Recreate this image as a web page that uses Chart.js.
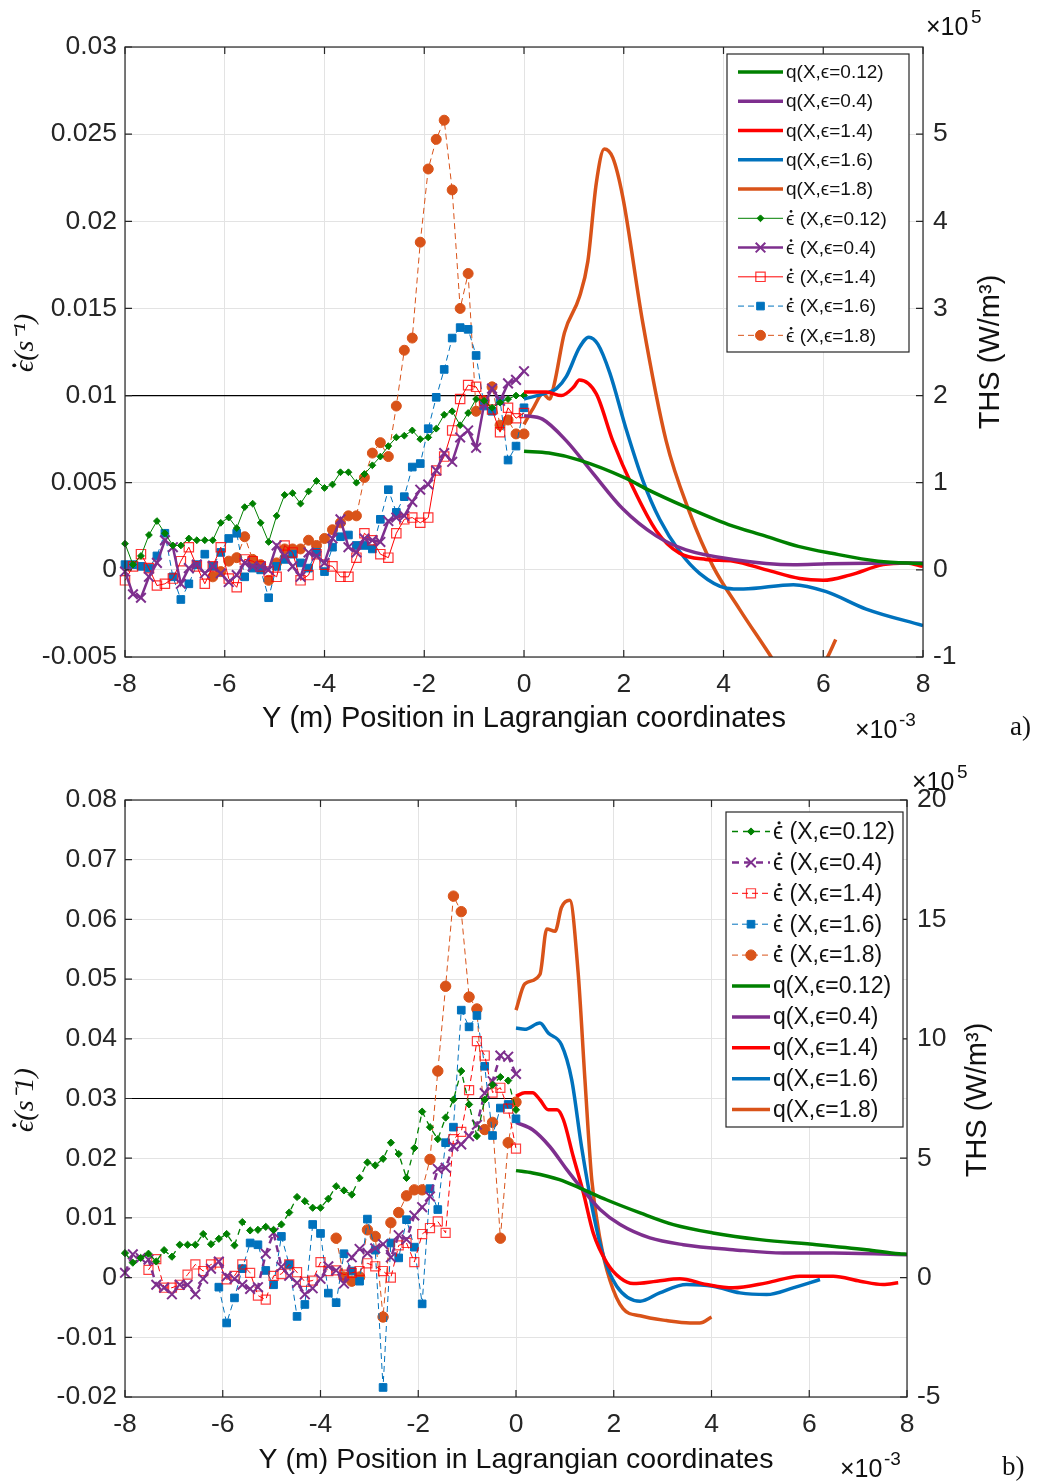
<!DOCTYPE html>
<html>
<head>
<meta charset="utf-8">
<script src="https://cdn.jsdelivr.net/npm/chart.js@4.4.1/dist/chart.umd.min.js"></script>
<style>
  body { margin: 0; background: #fff; width: 1041px; height: 1484px; position: relative; overflow: hidden; }
  .panel { position: absolute; left: 0; width: 1041px; height: 742px; }
</style>
</head>
<body>
<div class="panel" style="top:0"><canvas id="chartA" width="1041" height="742"></canvas></div>
<div class="panel" style="top:742px"><canvas id="chartB" width="1041" height="742"></canvas></div>
<script>
// position along Y (x1e-3 m), shared by all strain-rate series
const posX = [-8,-7.84,-7.68,-7.52,-7.36,-7.2,-7.04,-6.88,-6.72,-6.56,-6.4,-6.24,-6.08,-5.92,-5.76,-5.6,-5.44,-5.28,-5.12,-4.96,
  -4.8,-4.64,-4.48,-4.32,-4.16,-4,-3.84,-3.68,-3.52,-3.36,-3.2,-3.04,-2.88,-2.72,-2.56,-2.4,-2.24,-2.08,-1.92,-1.76,
  -1.6,-1.44,-1.28,-1.12,-0.96,-0.8,-0.64,-0.48,-0.32,-0.16,0];

// panel a) strain rate (1/s)
const rateA012 = [0.0015,0.0003,0.0008,0.0020,0.0028,0.0021,0.0014,0.0014,0.0018,0.0017,0.0017,0.0017,0.0027,0.0030,0.0024,0.0036,0.0038,0.0027,0.0016,0.0031,
  0.0043,0.0044,0.0038,0.0045,0.0051,0.0047,0.0049,0.0056,0.0056,0.0050,0.0055,0.0060,0.0065,0.0071,0.0076,0.0077,0.0080,0.0075,0.0076,0.0081,
  0.0089,0.0091,0.0083,0.0090,0.0098,0.0097,0.0093,0.0096,0.0098,0.0100,0.0100];
const rateA04 = [-0.0001,-0.0014,-0.0016,-0.0004,0.0004,0.0017,0.0013,-0.0008,0.0001,0.0003,-0.0002,0.0002,-0.0002,-0.0007,-0.0003,0.0004,0.0002,0.0002,0,0.0014,
  0.0008,0.0002,-0.0004,0.0010,0.0008,0.0004,0.0018,0.0029,0.0013,0.0010,0.0018,0.0017,0.0016,0.0028,0.0030,0.0031,0.0039,0.0046,0.0049,0.0057,
  0.0067,0.0062,0.0076,0.0080,0.0070,0.0095,0.0104,0.0097,0.0107,0.0109,0.0114];
const rateA14 = [-0.0006,0.0002,0.0009,0.0001,-0.0009,-0.0008,-0.0005,0.0005,0.0013,0.0002,-0.0008,0.0002,0.0013,-0.0005,-0.0010,0.0006,0.0005,0.0002,-0.0001,-0.0004,
  0.0014,0.0010,-0.0006,-0.0003,0.0009,0.0003,0.0002,-0.0004,-0.0004,0.0007,0.0021,0.0017,0.0009,0.0007,0.0021,0.0029,0.0030,0.0027,0.0030,0.0057,
  0.0065,0.0080,0.0098,0.0106,0.0105,0.0097,0.0092,0.0079,0.0093,0.0087,0.0090];
const rateA16 = [0.0003,0.0003,0.0002,0.0001,0.0008,0.0021,-0.0004,-0.0017,-0.0008,0.0003,0.0009,0.0002,0.0010,0.0018,0.0021,-0.0004,0.0001,0,-0.0016,0.0002,
  0.0006,0.0009,0.0004,0.0001,0.0010,-0.0001,0.0013,0.0019,0.0020,0.0014,0.0014,0.0012,0.0029,0.0046,0.0033,0.0042,0.0059,0.0061,0.0081,0.0099,
  0.0115,0.0133,0.0139,0.0138,0.0123,0.0094,0.0091,0.0097,0.0063,0.0071,0.0093];
const rateA18 = [null,null,null,null,null,null,null,null,null,null,null,-0.0004,-0.0001,0.0005,0.0007,0.0019,0.0006,0.0003,-0.0006,0.0004,
  0.0012,0.0012,0.0012,0.0017,0.0014,0.0018,0.0023,0.0027,0.0031,0.0031,0.0053,0.0067,0.0073,0.0065,0.0094,0.0126,0.0133,0.0188,0.0230,0.0247,
  0.0258,0.0218,0.0150,0.0170,0.0091,0.0097,0.0105,0.0083,0.0086,0.0078,0.0078];

// panel a) THS (x1e5 W/m3)
const qA012x = [0,0.5,1.11,2.05,2.45,3.25,4.1,4.83,5.5,6.17,7.1,8];
const qA012y = [1.36,1.34,1.26,1.05,0.93,0.72,0.52,0.39,0.27,0.19,0.10,0.07];
const qA04x = [0,0.37,0.85,1.38,1.98,2.65,3.25,4.19,5.4,6.1,8];
const qA04y = [1.77,1.73,1.48,1.11,0.70,0.39,0.23,0.12,0.06,0.07,0.08];
const qA14x = [0,0.45,0.75,1.0,1.11,1.45,1.78,2.18,2.65,3.12,3.65,4.2,4.86,5.53,6.0,6.53,7.2,7.67,8];
const qA14y = [2.04,2.04,2.0,2.1,2.18,2.02,1.48,0.95,0.45,0.19,0.12,0.10,0.0,-0.10,-0.12,-0.06,0.06,0.08,0.04];
const qA16x = [0,0.45,0.65,0.85,1.11,1.3,1.48,1.72,2.05,2.38,2.72,3.12,3.52,4.06,4.4,5.4,6.06,6.86,8];
const qA16y = [1.96,2.03,2.08,2.22,2.55,2.67,2.59,2.26,1.61,1.03,0.58,0.21,-0.04,-0.21,-0.22,-0.17,-0.25,-0.45,-0.64];
const qA18x = [0,0.18,0.38,0.51,0.61,0.81,1.11,1.28,1.45,1.61,1.78,1.98,2.38,2.85,3.32,3.79,4.32,4.99,5.5,6.06,6.25];
const qA18y = [1.67,1.85,2.02,1.96,2.14,2.72,3.13,3.54,4.44,4.83,4.73,4.28,2.84,1.48,0.66,0.04,-0.45,-1.03,-1.5,-1.03,-0.8];

// panel b) strain rate (1/s)
const rateB012 = [0.0041,0.0025,0.0033,0.0040,0.0027,0.0046,0.0035,0.0055,0.0055,0.0055,0.0073,0.0056,0.0065,0.0073,0.0054,0.0093,0.0079,0.0080,0.0085,0.0080,
  0.0089,0.0109,0.0135,0.0128,0.0117,0.0117,0.0132,0.0153,0.0146,0.0139,0.0167,0.0193,0.0188,0.0199,0.0226,0.0207,0.0167,0.0217,0.0278,0.0252,
  0.0232,0.0268,0.0298,0.0346,0.0290,0.0237,0.0298,0.0323,0.0336,0.0330,0.0281];
const rateB04 = [0.0008,0.0039,0.0033,0.0030,-0.0012,-0.0017,-0.0028,-0.0012,-0.0012,-0.0028,-0.0002,0.0015,0.0027,0.0002,-0.0002,-0.0012,-0.0019,-0.0016,0.0040,0.0075,
  0.0018,0.0003,-0.0009,-0.0028,-0.0018,-0.0002,0.0019,0.0012,-0.0010,0.0034,0.0048,0.0041,0.0049,0.0056,0.0034,0.0071,0.0064,0.0104,0.0118,0.0136,
  0.0182,0.0184,0.0220,0.0223,0.0237,0.0256,0.0309,0.0329,0.0372,0.0370,0.0341];
const rateB14 = [null,null,null,0.0013,0.0031,-0.0017,-0.0017,-0.0012,0.0005,0.0022,0.0011,0.0022,0.0025,-0.0003,0.0003,0.0022,0.0008,-0.0030,-0.0037,0.0003,
  0.0006,0.0022,0.0009,-0.0007,-0.0005,0.0026,0.0011,0.0012,0.0005,0.0008,0.0011,0.0024,0.0019,0.0011,0,0.0054,0.0058,0.0026,0.0073,0.0083,
  0.0094,0.0075,0.0232,0.0244,0.0314,0.0396,0.0372,0.0310,0.0318,0.0283,0.0216];
const rateB16 = [null,null,null,null,null,null,null,null,null,null,null,null,-0.0016,-0.0076,-0.0034,0.0015,0.0058,0.0055,0.0012,-0.0012,
  0.0069,0.0022,-0.0065,-0.0045,0.0089,0.0074,-0.0026,-0.0042,0.0040,0.0011,-0.0006,0.0098,0.0046,-0.0184,0.0058,0.0033,0.0097,0.0051,-0.0044,0.0149,
  0.0114,0.0226,0.0252,0.0448,0.0420,0.0439,0.0354,0.0238,0.0284,0.0290,0.0266];
const rateB18 = [null,null,null,null,null,null,null,null,null,null,null,null,null,null,null,null,null,null,null,null,
  null,null,null,null,null,null,null,0.0066,0.0001,-0.0006,0.0001,0.0080,0.0069,-0.0066,0.0092,0.0109,0.0137,0.0147,0.0147,0.0198,
  0.0346,0.0488,0.0639,0.0613,0.0470,0.0450,0.0248,0.0260,0.0066,0.0226,0.0294];

// panel b) THS (x1e5 W/m3)
const qB012x = [0,0.34,0.89,1.31,1.85,2.54,3.22,4.03,4.99,6.15,7.17,7.84,8];
const qB012y = [4.48,4.38,4.1,3.75,3.26,2.71,2.22,1.87,1.59,1.38,1.17,1.0,0.98];
const qB04x = [0,0.34,0.69,1.04,1.31,1.72,2.13,2.74,3.42,4.44,5.47,6.49,8];
const qB04y = [6.5,6.19,5.49,4.52,3.82,2.85,2.22,1.66,1.38,1.17,1.03,1.03,0.96];
const qB14x = [0,0.18,0.34,0.49,0.66,0.84,0.97,1.17,1.38,1.58,1.86,2.13,2.4,2.88,3.35,3.9,4.44,5.13,5.81,6.49,7.04,7.51,7.82];
const qB14y = [7.59,7.74,7.74,7.45,7.03,7.03,6.61,5.08,3.54,1.87,0.62,-0.01,-0.25,-0.15,-0.05,-0.29,-0.43,-0.22,0.06,0.06,-0.15,-0.29,-0.22];
const qB16x = [0,0.18,0.49,0.66,0.93,1.14,1.34,1.58,1.79,2.06,2.54,2.94,3.49,4.03,4.58,5.13,5.67,6.22];
const qB16y = [10.45,10.4,10.66,10.24,9.75,8.28,5.49,2.71,0.89,-0.36,-0.99,-0.64,-0.29,-0.36,-0.64,-0.71,-0.43,-0.08];
const qB18x = [0,0.18,0.49,0.63,0.8,0.93,1.1,1.27,1.41,1.55,1.72,1.92,2.19,2.54,3.08,3.56,3.76,4.0];
const qB18y = [11.2,12.3,12.7,14.6,14.5,15.5,15.8,12.8,8.3,4.1,1.6,-0.1,-1.3,-1.6,-1.8,-1.9,-1.9,-1.65];

// horizontal reference lines
const refX = [-8, 0];
const refA = [0.01, 0.01];
const refB = [0.03, 0.03];

// axis ticks
const xTickVals = [-8,-6,-4,-2,0,2,4,6,8];
const xTickLabels = ['-8','-6','-4','-2','0','2','4','6','8'];
const leftValsA = [-0.005,0,0.005,0.01,0.015,0.02,0.025,0.03];
const leftLabelsA = ['-0.005','0','0.005','0.01','0.015','0.02','0.025','0.03'];
const rightValsA = [-1,0,1,2,3,4,5];
const rightLabelsA = ['-1','0','1','2','3','4','5'];
const leftValsB = [-0.02,-0.01,0,0.01,0.02,0.03,0.04,0.05,0.06,0.07,0.08];
const leftLabelsB = ['-0.02','-0.01','0','0.01','0.02','0.03','0.04','0.05','0.06','0.07','0.08'];
const rightValsB = [-5,0,5,10,15,20];
const rightLabelsB = ['-5','0','5','10','15','20'];

const GREEN = '#008000', PURPLE = '#7E2F8E', RED = '#FF0000', BLUE = '#0072BD', ORANGE = '#D95319';
const TXT = '#262626', GRID = '#e3e3e3';
const SANS = '"Liberation Sans", Arial, sans-serif';
const SERIF = '"Liberation Serif", "Times New Roman", serif';
const EPS = '\u03F5';
const EPSDOT = '\u03F5\u0307';

function pts(xs, ys) {
  return xs.map((x, i) => ({ x: x, y: ys[i] }));
}

function qSet(label, xs, ys, color) {
  return {
    label: label, data: pts(xs, ys), yAxisID: 'yR',
    borderColor: color, backgroundColor: color, borderWidth: 3.5,
    pointRadius: 0, cubicInterpolationMode: 'monotone', fill: false, clip: 0
  };
}

function rateSet(label, ys, color, o) {
  return Object.assign({
    label: label, data: pts(posX, ys), yAxisID: 'y',
    borderColor: color, backgroundColor: color, borderWidth: 1,
    pointBackgroundColor: color, pointBorderColor: color, pointBorderWidth: 1,
    tension: 0, fill: false, clip: false
  }, o);
}

function refSet(ys) {
  return { label: 'ref', data: pts(refX, ys), yAxisID: 'y', borderColor: '#000', borderWidth: 1.2, pointRadius: 0, fill: false };
}

function tickAxis(vals, labels, extra) {
  return Object.assign({
    type: 'linear',
    min: vals[0], max: vals[vals.length - 1],
    afterBuildTicks: s => { s.ticks = vals.map(v => ({ value: v })); },
    border: { display: false },
    grid: { color: GRID, lineWidth: 1, drawTicks: false },
    ticks: { autoSkip: false, maxRotation: 0, color: TXT, font: { family: SANS, size: 26.5 }, callback: (v, i) => labels[i] }
  }, extra);
}

function marker(ctx, style, r, x, y, fill, stroke, bw) {
  ctx.save();
  ctx.setLineDash([]);
  ctx.beginPath();
  if (style === 'circle') {
    ctx.arc(x, y, r, 0, Math.PI * 2);
  } else if (style === 'rect') {
    const s = r * Math.SQRT1_2;
    ctx.rect(x - s, y - s, 2 * s, 2 * s);
  } else if (style === 'rectRot') {
    ctx.moveTo(x - r, y); ctx.lineTo(x, y - r); ctx.lineTo(x + r, y); ctx.lineTo(x, y + r); ctx.closePath();
  } else if (style === 'crossRot') {
    const s = r * Math.SQRT1_2;
    ctx.moveTo(x - s, y - s); ctx.lineTo(x + s, y + s);
    ctx.moveTo(x + s, y - s); ctx.lineTo(x - s, y + s);
  }
  if (style !== 'crossRot' && fill) { ctx.fillStyle = fill; ctx.fill(); }
  ctx.strokeStyle = stroke; ctx.lineWidth = bw; ctx.stroke();
  ctx.restore();
}

// draws text; a leading dotted epsilon gets its dot painted by hand
function richText(ctx, text, x, y, align) {
  if (text.indexOf(EPSDOT) !== 0) {
    ctx.textAlign = align;
    ctx.fillText(text, x, y);
    return;
  }
  const rest = text.slice(2);
  const size = parseFloat(/([\d.]+)px/.exec(ctx.font)[1]);
  const we = ctx.measureText(EPS).width;
  const total = we + ctx.measureText(rest).width;
  const sx = align === 'center' ? x - total / 2 : x;
  ctx.textAlign = 'left';
  ctx.fillText(EPS, sx, y);
  ctx.beginPath();
  ctx.arc(sx + we * 0.6, y - size * 0.42, size * 0.07, 0, Math.PI * 2);
  ctx.fill();
  ctx.fillText(rest, sx + we, y);
}

const framePlugin = {
  id: 'frame',
  afterDraw(chart, args, o) {
    const ctx = chart.ctx, a = chart.chartArea, sc = chart.scales;
    ctx.save();
    ctx.strokeStyle = TXT;
    ctx.lineWidth = 1.2;
    ctx.strokeRect(a.left, a.top, a.right - a.left, a.bottom - a.top);
    ctx.beginPath();
    sc.x.ticks.forEach(t => {
      const px = sc.x.getPixelForValue(t.value);
      ctx.moveTo(px, a.bottom); ctx.lineTo(px, a.bottom - 7);
      ctx.moveTo(px, a.top); ctx.lineTo(px, a.top + 7);
    });
    sc.y.ticks.forEach(t => {
      const py = sc.y.getPixelForValue(t.value);
      ctx.moveTo(a.left, py); ctx.lineTo(a.left + 7, py);
    });
    sc.yR.ticks.forEach(t => {
      const py = sc.yR.getPixelForValue(t.value);
      ctx.moveTo(a.right, py); ctx.lineTo(a.right - 7, py);
    });
    ctx.stroke();

    // texts
    o.texts.forEach(t => {
      ctx.save();
      ctx.fillStyle = '#111';
      ctx.font = t.font;
      ctx.textBaseline = t.base || 'middle';
      ctx.translate(t.x, t.y);
      if (t.rot) ctx.rotate(t.rot * Math.PI / 180);
      richText(ctx, t.t, 0, 0, t.align || 'center');
      ctx.restore();
    });

    // legend
    const L = o.legend;
    ctx.fillStyle = '#fff';
    ctx.fillRect(L.box[0], L.box[1], L.box[2] - L.box[0], L.box[3] - L.box[1]);
    ctx.strokeStyle = TXT;
    ctx.lineWidth = 1.2;
    ctx.strokeRect(L.box[0], L.box[1], L.box[2] - L.box[0], L.box[3] - L.box[1]);
    L.order.forEach((di, k) => {
      const ds = chart.data.datasets[di];
      const y = L.y0 + k * L.step;
      ctx.save();
      ctx.strokeStyle = ds.borderColor;
      ctx.lineWidth = ds.borderWidth;
      ctx.setLineDash(ds.borderDash || []);
      ctx.beginPath();
      ctx.moveTo(L.x0, y); ctx.lineTo(L.x1, y);
      ctx.stroke();
      ctx.restore();
      if (ds.pointRadius > 0) {
        marker(ctx, ds.pointStyle, ds.pointRadius, (L.x0 + L.x1) / 2, y, ds.pointBackgroundColor, ds.pointBorderColor, ds.pointBorderWidth);
      }
      ctx.fillStyle = '#111';
      ctx.font = L.font;
      ctx.textBaseline = 'middle';
      richText(ctx, ds.label, L.tx, y + 1, 'left');
    });
    ctx.restore();
  }
};

function makeChart(id, datasets, s) {
  return new Chart(document.getElementById(id), {
    type: 'line',
    data: { datasets: datasets },
    plugins: [framePlugin],
    options: {
      responsive: false,
      animation: false,
      devicePixelRatio: 1,
      layout: { padding: { top: s.top, left: 0, right: 0, bottom: 0 } },
      plugins: {
        legend: { display: false },
        tooltip: { enabled: false },
        frame: { texts: s.texts, legend: s.legend }
      },
      scales: {
        x: tickAxis(xTickVals, xTickLabels, {
          min: -8, max: 8,
          afterFit: sc => { sc.height = s.xH; },
          ticks: { autoSkip: false, maxRotation: 0, padding: s.xPad, color: TXT, font: { family: SANS, size: 26.5 }, callback: (v, i) => xTickLabels[i] }
        }),
        y: tickAxis(s.leftVals, s.leftLabels, {
          position: 'left',
          afterFit: sc => { sc.width = 125; },
          ticks: { autoSkip: false, padding: 8, color: TXT, font: { family: SANS, size: 26.5 }, callback: (v, i) => s.leftLabels[i] }
        }),
        yR: tickAxis(s.rightVals, s.rightLabels, {
          position: 'right',
          min: s.rightMin, max: s.rightMax,
          afterFit: sc => { sc.width = s.rightW; },
          grid: { display: false, drawTicks: false },
          ticks: { autoSkip: false, padding: 10, color: TXT, font: { family: SANS, size: 26.5 }, callback: (v, i) => s.rightLabels[i] }
        })
      }
    }
  });
}

// ---------- panel a ----------
const dsA = [
  qSet('q(X,' + EPS + '=0.12)', qA012x, qA012y, GREEN),
  qSet('q(X,' + EPS + '=0.4)', qA04x, qA04y, PURPLE),
  qSet('q(X,' + EPS + '=1.4)', qA14x, qA14y, RED),
  qSet('q(X,' + EPS + '=1.6)', qA16x, qA16y, BLUE),
  qSet('q(X,' + EPS + '=1.8)', qA18x, qA18y, ORANGE),
  rateSet(EPSDOT + ' (X,' + EPS + '=0.12)', rateA012, GREEN, { pointStyle: 'rectRot', pointRadius: 3.4 }),
  rateSet(EPSDOT + ' (X,' + EPS + '=0.4)', rateA04, PURPLE, { borderWidth: 2.5, pointStyle: 'crossRot', pointRadius: 6.8, pointBorderWidth: 2 }),
  rateSet(EPSDOT + ' (X,' + EPS + '=1.4)', rateA14, RED, { pointStyle: 'rect', pointRadius: 6.6, pointBackgroundColor: 'rgba(255,255,255,0)', pointBorderColor: 'rgba(255,0,0,0.8)', pointBorderWidth: 1.2 }),
  rateSet(EPSDOT + ' (X,' + EPS + '=1.6)', rateA16, BLUE, { borderDash: [6, 4], pointStyle: 'rect', pointRadius: 5.4 }),
  rateSet(EPSDOT + ' (X,' + EPS + '=1.8)', rateA18, ORANGE, { borderDash: [6, 4], pointStyle: 'circle', pointRadius: 5 }),
  refSet(refA)
];

makeChart('chartA', dsA, {
  top: 47, xH: 85, xPad: 12, rightW: 118, rightMin: -1, rightMax: 6,
  leftVals: leftValsA, leftLabels: leftLabelsA, rightVals: rightValsA, rightLabels: rightLabelsA,
  texts: [
    { t: EPSDOT + '(s\u207B\u00B9)', x: 26, y: 343, font: 'italic 28px ' + SERIF, rot: -90 },
    { t: 'THS (W/m\u00B3)', x: 991, y: 352, font: '29px ' + SANS, rot: -90 },
    { t: '\u00D710', x: 926, y: 35, font: '25px ' + SANS, align: 'left', base: 'alphabetic' },
    { t: '5', x: 971, y: 23, font: '19px ' + SANS, align: 'left', base: 'alphabetic' },
    { t: 'Y (m) Position in Lagrangian coordinates', x: 524, y: 719, font: '29px ' + SANS },
    { t: '\u00D710', x: 855, y: 738, font: '25px ' + SANS, align: 'left', base: 'alphabetic' },
    { t: '-3', x: 899, y: 726, font: '19px ' + SANS, align: 'left', base: 'alphabetic' },
    { t: 'a)', x: 1010, y: 735, font: '27px ' + SERIF, align: 'left', base: 'alphabetic' }
  ],
  legend: { box: [727, 54, 909, 352], order: [0, 1, 2, 3, 4, 5, 6, 7, 8, 9], y0: 72, step: 29.26, x0: 738, x1: 783, tx: 786, font: '19px ' + SANS }
});

// ---------- panel b ----------
const dsB = [
  rateSet(EPSDOT + ' (X,' + EPS + '=0.12)', rateB012, GREEN, { borderWidth: 1.3, borderDash: [6, 5], pointStyle: 'rectRot', pointRadius: 3.6 }),
  rateSet(EPSDOT + ' (X,' + EPS + '=0.4)', rateB04, PURPLE, { borderWidth: 2.5, borderDash: [7, 5], pointStyle: 'crossRot', pointRadius: 6.8, pointBorderWidth: 2 }),
  rateSet(EPSDOT + ' (X,' + EPS + '=1.4)', rateB14, RED, { borderDash: [6, 4], pointStyle: 'rect', pointRadius: 6.4, pointBackgroundColor: 'rgba(255,255,255,0)', pointBorderColor: 'rgba(255,0,0,0.75)', pointBorderWidth: 1.2 }),
  rateSet(EPSDOT + ' (X,' + EPS + '=1.6)', rateB16, BLUE, { borderDash: [6, 4], pointStyle: 'rect', pointRadius: 5.4 }),
  rateSet(EPSDOT + ' (X,' + EPS + '=1.8)', rateB18, ORANGE, { borderDash: [6, 4], pointStyle: 'circle', pointRadius: 5.2 }),
  qSet('q(X,' + EPS + '=0.12)', qB012x, qB012y, GREEN),
  qSet('q(X,' + EPS + '=0.4)', qB04x, qB04y, PURPLE),
  qSet('q(X,' + EPS + '=1.4)', qB14x, qB14y, RED),
  qSet('q(X,' + EPS + '=1.6)', qB16x, qB16y, BLUE),
  qSet('q(X,' + EPS + '=1.8)', qB18x, qB18y, ORANGE),
  refSet(refB)
];

makeChart('chartB', dsB, {
  top: 58, xH: 87, xPad: 12, rightW: 134, rightMin: -5, rightMax: 20,
  leftVals: leftValsB, leftLabels: leftLabelsB, rightVals: rightValsB, rightLabels: rightLabelsB,
  texts: [
    { t: EPSDOT + '(s\u207B1)', x: 26, y: 358, font: 'italic 28px ' + SERIF, rot: -90 },
    { t: 'THS (W/m\u00B3)', x: 978, y: 358, font: '29px ' + SANS, rot: -90 },
    { t: '\u00D710', x: 912, y: 48, font: '25px ' + SANS, align: 'left', base: 'alphabetic' },
    { t: '5', x: 957, y: 36, font: '19px ' + SANS, align: 'left', base: 'alphabetic' },
    { t: 'Y (m) Position in Lagrangian coordinates', x: 516, y: 718, font: '28.5px ' + SANS },
    { t: '\u00D710', x: 840, y: 735, font: '25px ' + SANS, align: 'left', base: 'alphabetic' },
    { t: '-3', x: 884, y: 723, font: '19px ' + SANS, align: 'left', base: 'alphabetic' },
    { t: 'b)', x: 1002, y: 733, font: '27px ' + SERIF, align: 'left', base: 'alphabetic' }
  ],
  legend: { box: [726, 70, 903, 385], order: [0, 1, 2, 3, 4, 5, 6, 7, 8, 9], y0: 89.5, step: 30.9, x0: 732, x1: 770, tx: 773, font: '23px ' + SANS }
});
</script>
</body>
</html>
